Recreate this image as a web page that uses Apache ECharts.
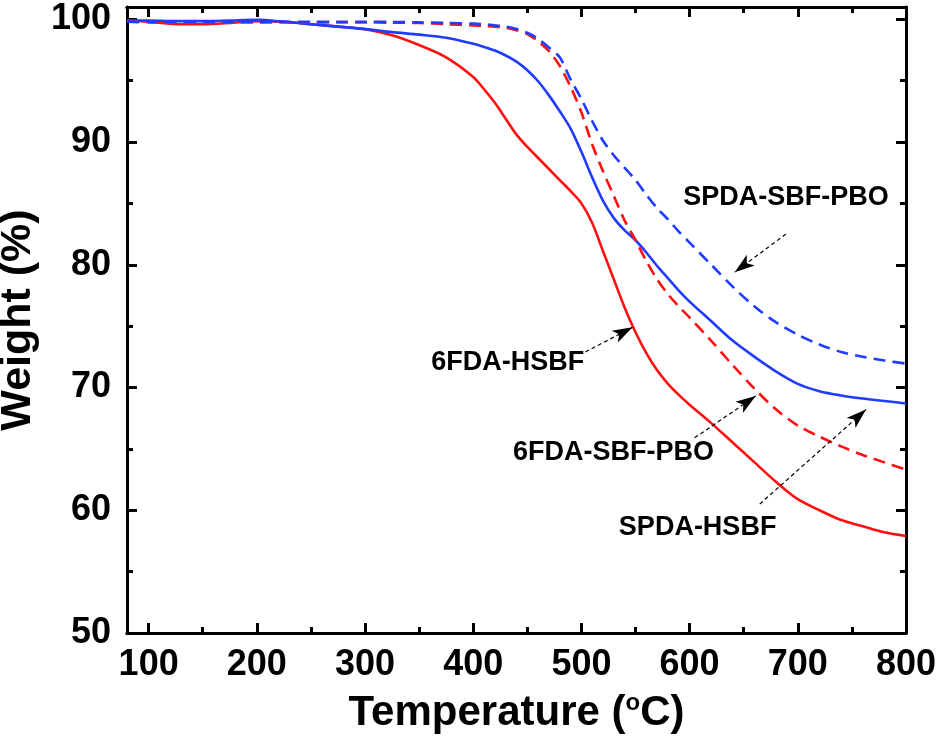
<!DOCTYPE html>
<html>
<head>
<meta charset="utf-8">
<script src="https://cdn.jsdelivr.net/npm/echarts@6/dist/echarts.min.js"></script>
<style>
  html, body { margin: 0; padding: 0; background: #fff; }
  #chart { width: 939px; height: 747px; }
</style>
</head>
<body>
<div id="chart"></div>
<script>
// temperature grid (°C)
var temps = [80, 100, 125, 150, 175, 200, 225, 250, 275, 300, 325, 350, 375, 400, 410, 420, 430, 440, 450, 460,
  470, 480, 490, 500, 510, 520, 530, 540, 550, 560, 570, 580, 590, 600, 620, 640, 660, 680, 700, 720, 740, 760, 780, 800];

// weight (%)
var w6fdaHsbf = [99.9, 99.8, 99.6, 99.6, 99.7, 99.85, 99.8, 99.6, 99.4, 99.2, 98.7, 97.9, 96.9, 95.3, 94.3, 93.2, 91.9, 90.6, 89.6, 88.7,
  87.8, 86.9, 86.0, 85.0, 83.4, 81.1, 78.8, 76.5, 74.5, 72.8, 71.4, 70.3, 69.4, 68.6, 67.1, 65.5, 63.9, 62.3, 60.9, 60.0, 59.2, 58.7, 58.2, 57.9];
var wSpdaHsbf = [99.9, 99.9, 99.85, 99.85, 99.9, 99.95, 99.8, 99.6, 99.4, 99.2, 98.95, 98.75, 98.5, 98.0, 97.75, 97.45, 97.05, 96.55, 95.85, 94.95,
  93.8, 92.5, 91.1, 89.2, 87.1, 85.2, 83.8, 82.8, 82.0, 81.0, 79.9, 78.9, 77.9, 77.0, 75.4, 73.8, 72.5, 71.3, 70.3, 69.7, 69.35, 69.1, 68.9, 68.7];
var w6fdaPbo = [99.8, 99.75, 99.75, 99.75, 99.75, 99.75, 99.75, 99.75, 99.75, 99.75, 99.72, 99.7, 99.6, 99.5, 99.45, 99.4, 99.3, 99.1, 98.8, 98.2,
  97.4, 96.2, 94.5, 92.4, 89.8, 87.6, 85.6, 83.6, 82.0, 80.3, 78.8, 77.6, 76.6, 75.7, 73.8, 71.8, 69.9, 68.2, 66.9, 66.0, 65.2, 64.5, 63.9, 63.3];
var wSpdaPbo = [99.8, 99.8, 99.8, 99.8, 99.8, 99.8, 99.8, 99.8, 99.8, 99.8, 99.78, 99.75, 99.7, 99.65, 99.6, 99.5, 99.4, 99.2, 98.9, 98.4,
  97.7, 96.9, 95.1, 93.5, 91.7, 90.1, 88.9, 87.9, 86.9, 85.7, 84.6, 83.7, 82.7, 81.8, 80.0, 78.2, 76.6, 75.3, 74.3, 73.5, 72.9, 72.5, 72.2, 71.95];

// tick labels
var xMajor = [100, 200, 300, 400, 500, 600, 700, 800];
var xMinor = [150, 250, 350, 450, 550, 650, 750];

// annotations: [text, text pos, arrow start, arrow tip]
var notes = [
  ['SPDA-SBF-PBO', [689, 85.5], [689, 82.5], [641.7, 79.4]],
  ['6FDA-HSBF', [432, 72.0], [503.7, 72.9], [547.2, 74.9]],
  ['6FDA-SBF-PBO', [529.6, 64.7], [604.6, 65.9], [661.1, 69.3]],
  ['SPDA-HSBF', [607.4, 58.6], [664.8, 60.5], [763, 68.2]]
];

function pairs(ys) {
  var out = [];
  for (var i = 0; i < temps.length; i++) out.push([temps[i], ys[i]]);
  return out;
}

var font = "'Liberation Sans', Arial, sans-serif";
var black = '#000';

function xAx(pos, ticks, len, labels) {
  return {
    type: 'value', position: pos, min: 80, max: 800,
    axisLine: { show: true, onZero: false, lineStyle: { color: black, width: 3 } },
    axisTick: { show: true, inside: true, length: len, customValues: ticks, lineStyle: { color: black, width: 3 } },
    axisLabel: labels ? { show: true, customValues: ticks, color: black, fontFamily: font, fontWeight: 'bold', fontSize: 36, margin: 14 } : { show: false },
    splitLine: { show: false }
  };
}
function yAx(pos, labels) {
  return {
    type: 'value', position: pos, min: 50, max: 101, interval: 10,
    axisLine: { show: true, onZero: false, lineStyle: { color: black, width: 3 } },
    axisTick: { show: true, inside: true, length: 10, lineStyle: { color: black, width: 3 } },
    minorTick: { show: true, splitNumber: 2, length: 6, lineStyle: { color: black, width: 3 } },
    axisLabel: labels ? { show: true, showMaxLabel: false, color: black, fontFamily: font, fontWeight: 'bold', fontSize: 36, margin: 16 } : { show: false },
    splitLine: { show: false }
  };
}

var xBottom = xAx('bottom', xMajor, 10, true);
xBottom.name = 'Temperature ({sup|o}C)';
xBottom.nameLocation = 'middle';
xBottom.nameGap = 58;
xBottom.nameTextStyle = {
  color: black, fontFamily: font, fontWeight: 'bold', fontSize: 42,
  rich: { sup: { fontFamily: font, fontWeight: 'bold', fontSize: 24, verticalAlign: 'top', padding: [0, 0, 20, 0] } }
};
var yLeft = yAx('left', true);
yLeft.name = 'Weight (%)';
yLeft.nameLocation = 'middle';
yLeft.nameRotate = 90;
yLeft.nameGap = 82;
yLeft.nameTextStyle = { color: black, fontFamily: font, fontWeight: 'bold', fontSize: 43 };

var series = [
  { name: '6FDA-HSBF', data: pairs(w6fdaHsbf), color: '#ff1010', dash: 'solid' },
  { name: 'SPDA-HSBF', data: pairs(wSpdaHsbf), color: '#1f3cff', dash: 'solid' },
  { name: '6FDA-SBF-PBO', data: pairs(w6fdaPbo), color: '#ff1010', dash: [12, 7] },
  { name: 'SPDA-SBF-PBO', data: pairs(wSpdaPbo), color: '#1f3cff', dash: [12, 7] }
].map(function (s) {
  return {
    name: s.name, type: 'line', data: s.data, smooth: 0.3, showSymbol: false, silent: true,
    lineStyle: { color: s.color, width: 2.6, type: s.dash }
  };
});

// arrows + texts on a helper series
series.push({
  type: 'line', data: [], silent: true,
  markLine: {
    silent: true, symbol: ['none', 'arrow'], symbolSize: [10, 20], label: { show: false },
    lineStyle: { color: black, width: 1.2, type: [4, 3] },
    data: notes.map(function (n) { return [{ coord: n[2] }, { coord: n[3] }]; })
  },
  markPoint: {
    silent: true, symbol: 'circle', symbolSize: 0,
    label: { show: true, position: 'inside', color: black, fontFamily: font, fontWeight: 'bold', fontSize: 27 },
    data: notes.map(function (n) { return { coord: n[1], value: n[0], label: { formatter: n[0] } }; })
  }
});

var myChart = echarts.init(document.getElementById('chart'));
var option = {
  backgroundColor: '#fff',
  animation: false,
  grid: { left: 127, right: 33, top: 7, bottom: 114, outerBoundsMode: 'none' },
  xAxis: [xBottom, xAx('bottom', xMinor, 6, false), xAx('top', xMajor, 10, false), xAx('top', xMinor, 6, false)],
  yAxis: [yLeft, yAx('right', false)],
  series: series
};
myChart.setOption(option);
</script>
</body>
</html>
